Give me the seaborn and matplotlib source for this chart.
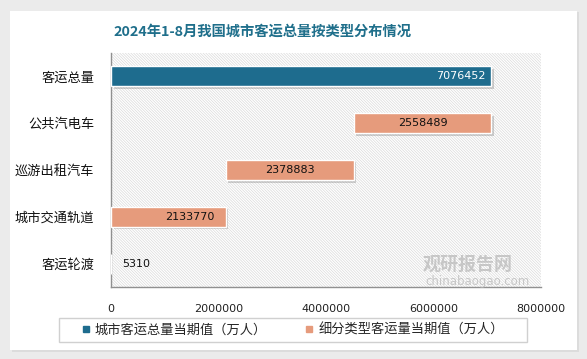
import numpy as np
import pandas as pd
import matplotlib
matplotlib.use("Agg")
import matplotlib.pyplot as plt
import matplotlib.patheffects as pe
from matplotlib.patches import Rectangle
from matplotlib.lines import Line2D
import seaborn as sns

# ---- data ----
categories = ['客运总量', '公共汽电车', '巡游出租汽车', '城市交通轨道', '客运轮渡']
values = [7076452, 2558489, 2378883, 2133770, 5310]
series_total = '城市客运总量当期值（万人）'
series_part = '细分类型客运量当期值（万人）'
series = [series_total, series_part, series_part, series_part, series_part]
x_ticks = [0, 2000000, 4000000, 6000000, 8000000]
title = '2024年1-8月我国城市客运总量按类型分布情况'

# waterfall starts: parts hang down from the total
starts = [0]
running = values[0]
for v in values[1:]:
    running -= v
    starts.append(running)

df = pd.DataFrame({'cat': categories, 'value': values, 'start': starts, 'series': series})

C_TOTAL = '#1e6c8e'
C_PART = '#e69b7c'
palette = {series_total: C_TOTAL, series_part: C_PART}

sns.set_style('white')
plt.rcParams['font.family'] = ['Noto Sans CJK SC', 'DejaVu Sans']
plt.rcParams['hatch.linewidth'] = 0.5

W, H = 587, 359
fig = plt.figure(figsize=(W / 100, H / 100), dpi=100)
fig.patch.set_facecolor('#ebebeb')
# card shadow + white card
fig.patches.append(Rectangle((12 / W, 1 - 352 / H), 567 / W, 340 / H, transform=fig.transFigure,
                             facecolor='#dcdcdc', edgecolor='none', zorder=-2))
fig.patches.append(Rectangle((10 / W, 1 - 350 / H), 567 / W, 339 / H, transform=fig.transFigure,
                             facecolor='white', edgecolor='none', zorder=-1))

ax = fig.add_axes([111 / W, 1 - 287 / H, 430 / W, 234 / H])
ax.set_facecolor('white')
ax.add_patch(Rectangle((0, 0), 1, 1, transform=ax.transAxes, facecolor='white',
                       edgecolor='#dadada', hatch='\\' * 12, lw=0, zorder=0))

sns.barplot(data=df, y='cat', x='value', hue='series', palette=palette, dodge=False,
            order=categories, hue_order=[series_total, series_part], width=0.43,
            orient='h', legend=False, ax=ax, zorder=3, edgecolor='white', linewidth=1.0,
            saturation=1)

# move each bar to its waterfall start
for p in ax.patches:
    if not hasattr(p, 'get_width') or p.get_width() <= 0:
        continue
    idx = int(round(p.get_y() + p.get_height() / 2))
    if 0 <= idx < len(categories):
        p.set_x(df['start'][idx])
        p.set_path_effects([pe.SimplePatchShadow(offset=(1.8, -1.8), shadow_rgbFace='#7a7a7a', alpha=0.35),
                            pe.Normal()])

ax.set_xlim(0, 8000000)
ax.set_ylim(4.5, -0.5)
ax.set_xticks(x_ticks)
ax.set_xticklabels([str(t) for t in x_ticks], fontsize=8, family='DejaVu Sans', color='#222222')
ax.set_yticks(range(len(categories)))
ax.set_yticklabels(categories, fontsize=9.5, color='#111111')
ax.set_yticks(np.arange(-0.5, len(categories) + 0.5, 1), minor=True)
ax.tick_params(axis='y', which='major', length=0, pad=12)
ax.tick_params(axis='y', which='minor', length=5, direction='out', color='#909090', width=1)
ax.tick_params(axis='x', which='major', length=5, direction='out', color='#909090', width=1, pad=7)
ax.set_xlabel('')
ax.set_ylabel('')
for s in ['top', 'right']:
    ax.spines[s].set_visible(False)
for s in ['left', 'bottom']:
    ax.spines[s].set_color('#909090')
    ax.spines[s].set_linewidth(1)

# value labels
px = 8000000 / 430.0
for i, (v, s0) in enumerate(zip(values, starts)):
    end = s0 + v
    if i == 0:
        ax.text(end - 6 * px, i, f'{v}', ha='right', va='center', color='white', fontsize=8,
                family='DejaVu Sans', zorder=5)
    elif v < 200000:
        ax.text(end + 11 * px, i, f'{v}', ha='left', va='center', color='#111111', fontsize=8,
                family='DejaVu Sans', zorder=5)
    elif s0 < 100000:
        ax.text(end - 11 * px, i, f'{v}', ha='right', va='center', color='#111111', fontsize=8,
                family='DejaVu Sans', zorder=5)
    else:
        ax.text(s0 + v / 2, i, f'{v}', ha='center', va='center', color='#111111', fontsize=8,
                family='DejaVu Sans', zorder=5)

# watermark
fig.text(468 / W, 1 - 264 / H, '观研报告网', fontsize=13, fontweight='bold', color='#b5b5b5',
         alpha=0.7, ha='center', va='center')
fig.text(478 / W, 1 - 281 / H, 'chinabaogao.com', fontsize=8.5, color='#b5b5b5', alpha=0.7,
         ha='center', va='center', family='DejaVu Sans')

# title
fig.text(262 / W, 1 - 32 / H, title, fontsize=10.3, fontweight='bold', color='#1f6f8b',
         ha='center', va='center')

# legend frame (drawn separately to match the reference box)
fig.patches.append(Rectangle((59 / W, 1 - 342 / H), 468 / W, 24 / H, transform=fig.transFigure,
                             facecolor='white', edgecolor='#d0d0d0', lw=1, zorder=1))
handles = [Line2D([], [], marker='s', linestyle='none', markersize=5, color=C_TOTAL),
           Line2D([], [], marker='s', linestyle='none', markersize=5, color=C_PART)]
leg = fig.legend(handles, [series_total, series_part], loc='center',
                 bbox_to_anchor=(293 / W, 1 - 330 / H), ncol=2, frameon=False,
                 fontsize=9.5, handlelength=0.6, handletextpad=0.4, columnspacing=2.9,
                 borderpad=0.2, borderaxespad=0)
leg.set_zorder(2)

fig.savefig('out.png', dpi=100, facecolor=fig.get_facecolor())
